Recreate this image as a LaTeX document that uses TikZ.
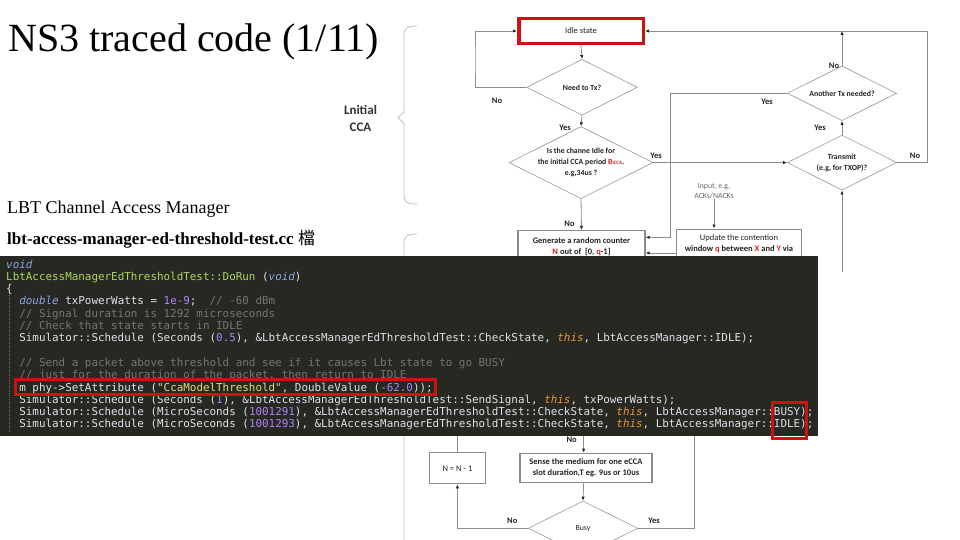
\documentclass[tikz,border=0pt]{standalone}
\usepackage{fontspec}
\setmainfont{Liberation Serif}
\setmonofont{DejaVu Sans Mono}
\newfontfamily\flowfont{Carlito}
\newfontfamily\cjk{Noto Sans CJK TC}
\usetikzlibrary{positioning,shapes.geometric,arrows.meta}

\definecolor{codebg}{RGB}{39,40,34}
\definecolor{codefg}{RGB}{222,226,234}
\definecolor{ckw}{RGB}{140,165,230}
\definecolor{cfn}{RGB}{170,215,90}
\definecolor{cnum}{RGB}{174,129,255}
\definecolor{ccom}{RGB}{118,118,110}
\definecolor{cthis}{RGB}{235,150,55}
\definecolor{cstr}{RGB}{230,219,116}
\definecolor{hired}{RGB}{205,18,18}
\definecolor{flowline}{RGB}{140,140,140}
\definecolor{flowtext}{RGB}{35,35,35}
\definecolor{flowred}{RGB}{225,30,30}

\newcommand\cKw[1]{\textcolor{ckw}{\itshape #1}}
\newcommand\cFn[1]{\textcolor{cfn}{#1}}
\newcommand\cNum[1]{\textcolor{cnum}{#1}}
\newcommand\cCom[1]{\textcolor{ccom}{#1}}
\newcommand\cThis[1]{\textcolor{cthis}{\itshape #1}}
\newcommand\cStr[1]{\textcolor{cstr}{#1}}
\newcommand\fr[1]{\textcolor{flowred}{#1}}

\tikzset{
  flow/.style={draw=flowline, line width=0.8pt, -{Latex[length=4pt,width=3.4pt,color=black!85]}},
  plain/.style={draw=flowline, line width=0.8pt},
  flowbox/.style={draw=black!45, line width=1.2pt, fill=white, align=center, inner sep=2.5pt,
    text=flowtext, font=\flowfont\fontsize{8.5}{11}\selectfont},
  flowdia/.style={diamond, draw=black!40, line width=0.6pt, aspect=2, inner sep=0pt, align=center,
    text=flowtext, font=\flowfont\bfseries\fontsize{7.8}{11}\selectfont},
  yn/.style={text=flowtext, font=\flowfont\bfseries\fontsize{8.5}{9}\selectfont, inner sep=0pt},
  brace/.style={draw=black!25, line width=0.8pt},
  codeline/.style={anchor=base west, inner sep=0pt, text=codefg, font=\ttfamily\fontsize{10.9}{12}\selectfont},
  hilite/.style={draw=hired, line width=3pt}
}

\begin{document}
\begin{tikzpicture}[x=1pt,y=-1pt]
  \useasboundingbox[fill=white] (0,0) rectangle (960,540);

  % slide text
  \node[anchor=base west, inner sep=0pt, font=\fontsize{40}{40}\selectfont] (title) at (8,52) {NS3 traced code (1/11)};
  \node[anchor=base west, inner sep=0pt, font=\fontsize{18}{18}\selectfont] (sub1) at (7,213) {LBT Channel Access Manager};
  \node[anchor=base west, inner sep=0pt, font=\bfseries\fontsize{17}{17}\selectfont] (sub2) at (7,244) {lbt-access-manager-ed-threshold-test.cc {\mdseries\cjk 檔}};

  % braces
  \draw[brace] (417,26) .. controls (407,26) and (404,28) .. (404,36) -- (404,112) -- (398,117.7) -- (404,123.4) -- (404,195) .. controls (404,202) and (407,204) .. (417,204);
  \draw[brace] (417,234) .. controls (407,234) and (404,236) .. (404,244) -- (404,540);
  \node[align=center, text=black!80, font=\flowfont\bfseries\fontsize{13}{17}\selectfont] (lcca) at (360.5,118) {Lnitial\\CCA};

  % flow chart, upper part
  \node[flowbox, draw=hired, line width=3.5pt, minimum width=124.5pt, minimum height=24.8pt] (idle) at (581,31) {Idle state};
  \node[flowdia, minimum width=110.6pt, minimum height=56pt] (needtx) at (582,87.3) {Need to Tx?};
  \node[flowdia, minimum width=134.6pt, minimum height=66.7pt] (chidle) at (581,162.6)
    {Is the channe Idle for\\the initial CCA period \fr{B{\fontsize{5}{5}\selectfont ICCA}}.\\e.g,34us ?};
  \node[flowbox, anchor=north, font=\flowfont\bfseries\fontsize{8.5}{11}\selectfont] (gen) at (581.5,230)
    {\parbox[t][32pt][t]{122pt}{\vspace*{4pt}\centering Generate a random counter\\\fr{N} out of\ \ [0, \fr{q}-1]}};
  \node[flowdia, minimum width=109.4pt, minimum height=54.7pt] (anotx) at (842,93.3) {Another Tx needed?};
  \node[flowdia, minimum width=109.4pt, minimum height=55pt] (txmit) at (842,162.6) {Transmit\\(e.g, for TXOP)?};
  \node[align=center, text=black!60, font=\flowfont\fontsize{7.8}{10}\selectfont, inner sep=0pt] (input) at (714,191) {Input, e.g,\\ACKs/NACKs};
  \node[flowbox, anchor=north] (upd) at (739,228.5)
    {\parbox[t][36pt][t]{120pt}{\vspace*{3pt}\centering Update the contention\\\textbf{window \fr{q} between \fr{X} and \fr{Y} via}}};

  \coordinate (lloop) at (475,60);
  \coordinate (rloop) at (927,100);
  \coordinate (vjoin) at (670,200);
  \coordinate (gin1) at ([yshift=-7.3pt]gen.north east);
  \coordinate (gin2) at ([yshift=-23pt]gen.north east);
  \coordinate (txin) at (842,272);

  \draw[flow] (idle.south) -- (needtx.north);
  \draw[flow] (needtx.west) -| (lloop) |- (idle.west);
  \draw[flow] (needtx.south) -- (chidle.north);
  \draw[flow] (chidle.east) -- (txmit.west);
  \draw[flow] (chidle.south) -- (gen.north);
  \draw[flow] (anotx.west) -| (vjoin) |- (gin1);
  \draw[flow] (upd.west |- gin2) -- (gin2);
  \draw[flow] (txmit.north) -- (anotx.south);
  \draw[flow] (anotx.north) -- (anotx.north |- idle.east);
  \draw[flow] (txmit.east) -| (rloop) |- (idle.east);
  \draw[flow] (input.south) -- (input.south |- upd.north);
  \draw[flow] (txin) -- (txmit.south);

  \node[yn] (l1) at (497,101) {No};
  \node[yn] (l2) at (565,127.7) {Yes};
  \node[yn] (l3) at (656,156) {Yes};
  \node[yn] (l4) at (569.5,224) {No};
  \node[yn] (l5) at (767,101.7) {Yes};
  \node[yn] (l6) at (834,65.5) {No};
  \node[yn] (l7) at (820,127.7) {Yes};
  \node[yn] (l8) at (915,156) {No};

  % flow chart, lower part
  \node[flowbox, minimum width=56pt, minimum height=31pt] (nminus) at (457.4,468.3) {N = N - 1};
  \node[flowbox, minimum width=132pt, minimum height=29.4pt, font=\flowfont\bfseries\fontsize{8.5}{11}\selectfont] (sense) at (586,468)
    {Sense the medium for one eCCA\\slot duration,T eg. 9us or 10us};
  \node[flowdia, minimum width=109.5pt, minimum height=54.6pt, font=\flowfont\fontsize{7.8}{11}\selectfont] (busy) at (583,528.3) {Busy};

  \coordinate (ntop) at (457.4,420);
  \coordinate (stop) at (583.6,420);
  \coordinate (rtop) at (694.3,420);

  \draw[plain] (nminus.north) -- (ntop);
  \draw[flow] (stop) -- (stop |- sense.north);
  \draw[flow] (sense.south -| stop) -- (busy.north);
  \draw[flow] (busy.west) -| (nminus.south);
  \draw[plain] (busy.east) -| (rtop);

  \node[yn] (l9) at (571.6,439.5) {No};
  \node[yn] (l10) at (512.3,520.7) {No};
  \node[yn] (l11) at (654,520.7) {Yes};

  % code screenshot
  \fill[codebg] (0,256) rectangle (818,436);
  \draw[black!55, line width=0.5pt, dash pattern=on 1pt off 1pt] (9,293) -- (9,432);
  \foreach \n/\ind/\txt in {
    1/0/{\cKw{void}},
    2/0/{\cFn{LbtAccessManagerEdThresholdTest::DoRun} (\cKw{void})},
    3/0/{\{},
    4/2/{\cKw{double} txPowerWatts = \cNum{1e-9};~~\cCom{// -60 dBm}},
    5/2/{\cCom{// Signal duration is 1292 microseconds}},
    6/2/{\cCom{// Check that state starts in IDLE}},
    7/2/{Simulator::Schedule (Seconds (\cNum{0.5}), \&LbtAccessManagerEdThresholdTest::CheckState, \cThis{this}, LbtAccessManager::IDLE);},
    9/2/{\cCom{// Send a packet above threshold and see if it causes Lbt state to go BUSY}},
    10/2/{\cCom{// just for the duration of the packet, then return to IDLE}},
    11/2/{m\_phy->SetAttribute (\cStr{"CcaModelThreshold"}, DoubleValue (\cNum{-62.0}));},
    12/2/{Simulator::Schedule (Seconds (\cNum{1}), \&LbtAccessManagerEdThresholdTest::SendSignal, \cThis{this}, txPowerWatts);},
    13/2/{Simulator::Schedule (MicroSeconds (\cNum{1001291}), \&LbtAccessManagerEdThresholdTest::CheckState, \cThis{this}, LbtAccessManager::BUSY);},
    14/2/{Simulator::Schedule (MicroSeconds (\cNum{1001293}), \&LbtAccessManagerEdThresholdTest::CheckState, \cThis{this}, LbtAccessManager::IDLE);}}{
    \node[codeline] (code\n) at ({6+\ind*6.56},{268+(\n-1)*12.3}) {\txt};
  }
  \draw[hilite] (15,379) rectangle (435,394);
  \draw[hilite] (772,402) rectangle (806,438);
\end{tikzpicture}
\end{document}
